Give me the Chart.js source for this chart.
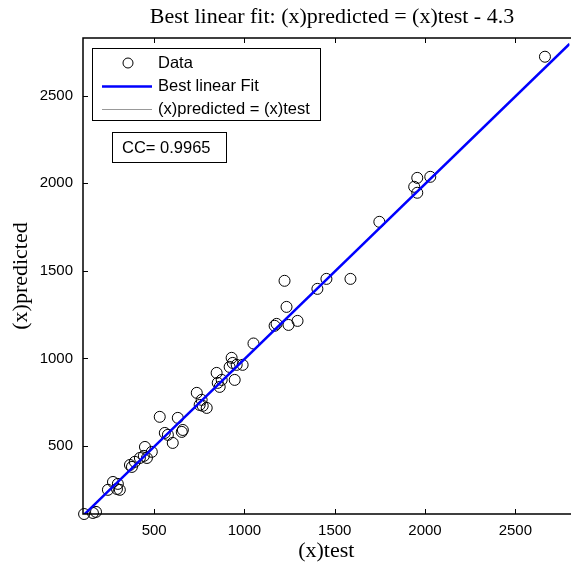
<!DOCTYPE html>
<html>
<head>
<meta charset="utf-8">
<script src="https://cdn.jsdelivr.net/npm/chart.js@4"></script>
<style>
html, body { margin: 0; padding: 0; background: #fff; overflow: hidden; }
</style>
</head>
<body>
<canvas id="fitChart" width="576" height="566"></canvas>
<script>
// values
const testVals = [112, 161, 178, 244, 299, 310, 272, 294, 366, 377, 393, 421, 443, 460, 449, 487,
  559, 576, 603, 653, 531, 631, 659, 736, 763, 752, 791, 769, 846, 852, 863, 874, 946,
  929, 935, 957, 990, 918, 1050, 1167, 1178, 1244, 1294, 1233, 1222, 1404, 1454, 1587,
  1747, 1957, 1940, 1957, 2029, 2664];
const predVals = [111, 117, 123, 249, 283, 249, 294, 254, 391, 380, 409, 431, 443, 431, 494, 466,
  574, 563, 517, 580, 666, 660, 591, 803, 763, 734, 717, 729, 917, 860, 837, 877, 877,
  1003, 974, 963, 963, 951, 1085, 1186, 1197, 1191, 1214, 1294, 1443, 1397, 1454, 1454,
  1780, 2031, 1980, 1946, 2037, 2723];
const xTicks = [500, 1000, 1500, 2000, 2500];
const yTicks = [500, 1000, 1500, 2000, 2500];
const xRange = [106, 2800];
const yRange = [111, 2830];
const fitSlope = 1;
const fitOffset = -4.3;
const ccText = "CC= 0.9965";
const legendLabels = ["Data", "Best linear Fit", "(x)predicted = (x)test"];

const sans = '"Liberation Sans", Arial, sans-serif';
const serif = '"Liberation Serif", "Times New Roman", serif';

const points = testVals.map((x, i) => ({ x: x, y: predVals[i] }));
const fitLine = xRange.map((x) => ({ x: x, y: fitSlope * x + fitOffset }));
const idLine = xRange.map((x) => ({ x: x, y: x }));

//--------------------------------------------------------
// matlab style frame, inward ticks, title, legend and CC box
const framePlugin = {
  id: "frame",
  afterDraw(chart) {
    const ctx = chart.ctx;
    const a = chart.chartArea;
    const xs = chart.scales.x;
    const ys = chart.scales.y;
    ctx.save();
    ctx.strokeStyle = "#000";
    ctx.lineWidth = 1.5;
    ctx.beginPath();
    ctx.moveTo(a.right + 10, a.top);
    ctx.lineTo(a.left, a.top);
    ctx.lineTo(a.left, a.bottom);
    ctx.lineTo(a.right + 10, a.bottom);
    ctx.stroke();

    ctx.lineWidth = 1;
    ctx.beginPath();
    xTicks.forEach((v) => {
      const px = Math.round(xs.getPixelForValue(v)) + 0.5;
      ctx.moveTo(px, a.bottom);
      ctx.lineTo(px, a.bottom - 5);
      ctx.moveTo(px, a.top);
      ctx.lineTo(px, a.top + 5);
    });
    yTicks.forEach((v) => {
      const py = Math.round(ys.getPixelForValue(v)) + 0.5;
      ctx.moveTo(a.left, py);
      ctx.lineTo(a.left + 5, py);
    });
    ctx.stroke();

    // title
    ctx.fillStyle = "#000";
    ctx.font = "22px " + serif;
    ctx.textAlign = "center";
    ctx.textBaseline = "middle";
    ctx.fillText("Best linear fit: (x)predicted = (x)test - 4.3", 332, 17);

    // legend
    ctx.fillStyle = "#fff";
    ctx.fillRect(92, 48, 228, 72);
    ctx.strokeStyle = "#000";
    ctx.lineWidth = 1;
    ctx.strokeRect(92.5, 48.5, 228, 72);
    const rows = [63, 86.5, 109];
    ctx.beginPath();
    ctx.arc(128, rows[0], 5, 0, Math.PI * 2);
    ctx.stroke();
    ctx.strokeStyle = "#0000ff";
    ctx.lineWidth = 2.5;
    ctx.beginPath();
    ctx.moveTo(102, rows[1]);
    ctx.lineTo(152, rows[1]);
    ctx.stroke();
    ctx.strokeStyle = "#999";
    ctx.lineWidth = 1;
    ctx.beginPath();
    ctx.moveTo(102, rows[2] + 0.5);
    ctx.lineTo(152, rows[2] + 0.5);
    ctx.stroke();
    ctx.fillStyle = "#000";
    ctx.font = "16.5px " + sans;
    ctx.textAlign = "left";
    legendLabels.forEach((t, i) => ctx.fillText(t, 158, rows[i]));

    // correlation box
    ctx.strokeStyle = "#000";
    ctx.strokeRect(112.5, 132.5, 114, 30);
    ctx.fillText(ccText, 122, 148);
    ctx.restore();
  },
};

const ctx = document.getElementById("fitChart");
const chart = new Chart(ctx, {
  type: "scatter",
  data: {
    datasets: [
      {
        label: legendLabels[0],
        data: points,
        pointStyle: "circle",
        pointRadius: 5.5,
        pointBorderWidth: 1,
        borderColor: "#000",
        backgroundColor: "rgba(0,0,0,0)",
        clip: false,
        order: 1,
      },
      {
        label: legendLabels[1],
        type: "line",
        data: fitLine,
        borderColor: "#0000ff",
        borderWidth: 2.5,
        pointRadius: 0,
        order: 0,
      },
      {
        label: legendLabels[2],
        type: "line",
        data: idLine,
        borderColor: "#999",
        borderWidth: 1,
        pointRadius: 0,
        order: 2,
      },
    ],
  },
  options: {
    responsive: false,
    animation: false,
    layout: { padding: { top: 38, left: 0, right: 0, bottom: 0 } },
    plugins: {
      legend: { display: false },
      title: { display: false },
      tooltip: { enabled: false },
    },
    scales: {
      x: {
        type: "linear",
        min: xRange[0],
        max: xRange[1],
        afterBuildTicks: (s) => { s.ticks = xTicks.map((v) => ({ value: v })); },
        afterFit: (s) => { s.height = 52; },
        grid: { display: false, drawTicks: false },
        border: { display: false },
        ticks: {
          color: "#000",
          padding: 8,
          maxRotation: 0,
          font: { family: sans, size: 15 },
          callback: (v) => String(v),
        },
        title: {
          display: true,
          text: "(x)test",
          color: "#000",
          font: { family: serif, size: 22 },
          padding: { top: 0, bottom: 2 },
        },
      },
      y: {
        type: "linear",
        min: yRange[0],
        max: yRange[1],
        afterBuildTicks: (s) => { s.ticks = yTicks.map((v) => ({ value: v })); },
        afterFit: (s) => { s.width = 83; },
        grid: { display: false, drawTicks: false },
        border: { display: false },
        ticks: {
          color: "#000",
          padding: 10,
          font: { family: sans, size: 15 },
          callback: (v) => String(v),
        },
        title: {
          display: true,
          text: "(x)predicted",
          color: "#000",
          font: { family: serif, size: 22 },
          padding: { top: 8, bottom: 0 },
        },
      },
    },
  },
  plugins: [framePlugin],
});
</script>
</body>
</html>
